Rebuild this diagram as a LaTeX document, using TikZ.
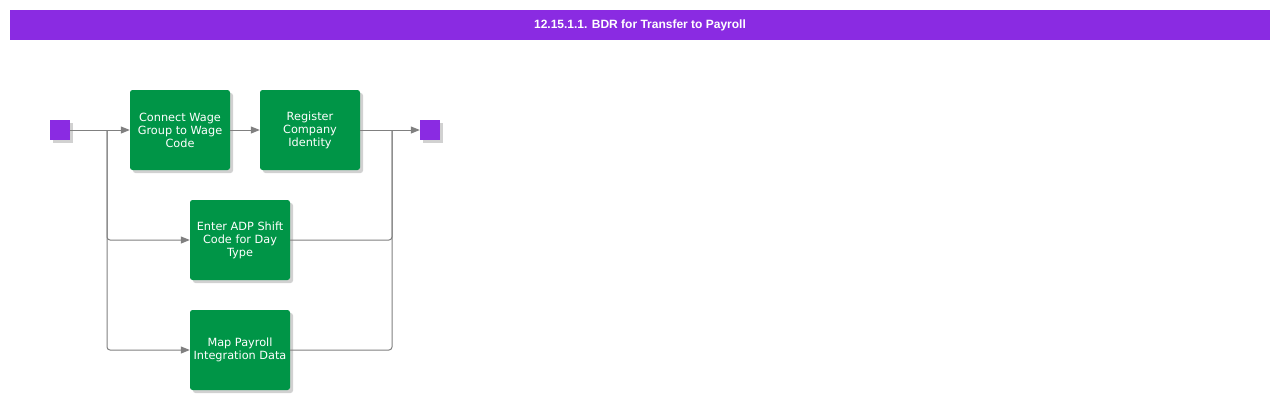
\documentclass[tikz,border=0pt]{standalone}
\usepackage{fontspec}
\setmainfont{DejaVu Sans}
\newfontfamily\titlefont{Liberation Sans}
\usetikzlibrary{arrows.meta,shadows}
\definecolor{hdr}{HTML}{8A2BE2}
\definecolor{taskgreen}{HTML}{009547}
\definecolor{linegrey}{HTML}{808080}
\tikzset{
  task/.style={draw=none,fill=taskgreen,rounded corners=2.5pt,minimum width=100pt,minimum height=80pt,inner sep=0pt,
    text=white,align=center,font=\fontsize{11.3}{13}\selectfont,
    drop shadow={shadow xshift=3pt,shadow yshift=-3pt,fill=black,opacity=0.18}},
  term/.style={draw=none,fill=hdr,minimum size=20pt,inner sep=0pt,
    drop shadow={shadow xshift=3pt,shadow yshift=-3pt,fill=black,opacity=0.18}},
  conn/.style={draw=linegrey,line width=1pt,-{Triangle[length=9pt,width=7pt]},rounded corners=3pt},
  line/.style={draw=linegrey,line width=1pt,rounded corners=3pt}
}
\begin{document}
\begin{tikzpicture}[x=1pt,y=-1pt]
\useasboundingbox (0,0) rectangle (1280,400);
\fill[white] (0,0) rectangle (1280,400);
\node[fill=hdr,minimum width=1260pt,minimum height=30pt,inner sep=0pt,text=white,font=\titlefont\bfseries\fontsize{12}{14}\selectfont] (title) at (640,25) {12.15.1.1. BDR for Transfer to Payroll};
\node[term] (start) at (60,130) {};
\node[term] (end) at (430,130) {};
\node[task] (connect) at (180,130) {Connect Wage\\Group to Wage\\Code};
\node[task] (register) at (310,130) {Register\\Company\\Identity};
\node[task] (adp) at (240,240) {Enter ADP Shift\\Code for Day\\Type};
\node[task] (map) at (240,350) {Map Payroll\\Integration Data};
\coordinate (split) at (107,130);
\coordinate (join) at (392,130);
\draw[conn] (start.east) -- (connect.west);
\draw[conn] (connect.east) -- (register.west);
\draw[conn] (register.east) -- (end.west);
\draw[conn] (split) |- (adp.west);
\draw[conn] (split) |- (map.west);
\draw[line] (adp.east) -| (join);
\draw[line] (map.east) -| (join);
\end{tikzpicture}
\end{document}
